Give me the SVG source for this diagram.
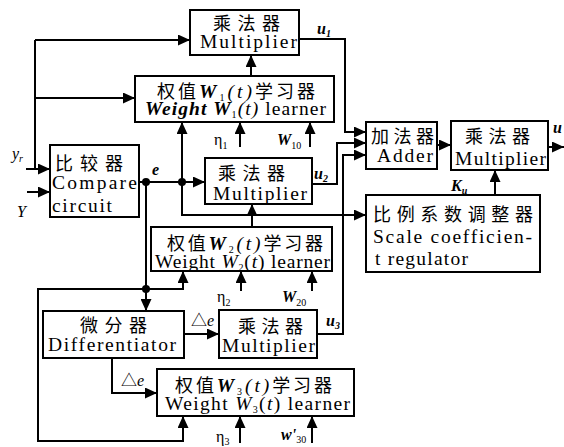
<svg xmlns="http://www.w3.org/2000/svg" width="564" height="447" viewBox="0 0 564 447">
<style>
.box{fill:#fff;stroke:#000;stroke-width:2}
.ln{fill:none;stroke:#000;stroke-width:2;marker-end:url(#ah)}
.pl{fill:none;stroke:#000;stroke-width:2}
.cn{font-family:"Liberation Serif","Noto Sans CJK SC",serif;font-size:18px;fill:#000}
.en{font-family:"Liberation Serif","Noto Sans CJK SC",serif;font-size:19.5px;fill:#000}
.lb{font-family:"Liberation Serif","Noto Sans CJK SC",serif;font-size:16px;fill:#000}
.it{font-style:italic}
.bi{font-style:italic;font-weight:bold}
.sb{font-size:10px}
</style>
<defs>
<marker id="ah" markerUnits="userSpaceOnUse" markerWidth="12" markerHeight="11" refX="12" refY="5.5" orient="auto">
<path d="M0,0 L12,5.5 L0,11 z" fill="#000"/>
</marker>
</defs>
<g id="connectors">
<path class="pl" d="M35,169 V40"/>
<path class="ln" d="M35,40 H190"/>
<path class="ln" d="M35,98 H135"/>
<path class="ln" d="M26,169 H50"/>
<path class="ln" d="M27,192 H50"/>
<path class="ln" d="M251,76 V55"/>
<path class="ln" d="M299,39 H345 V132 H366"/>
<path class="ln" d="M139,182 H205"/>
<path class="ln" d="M182,182 V122"/>
<path class="ln" d="M182,182 V215 H366"/>
<path class="ln" d="M240,147 V122"/>
<path class="ln" d="M310,147 V122"/>
<path class="ln" d="M312,184 H337 V143 H366"/>
<path class="ln" d="M252,227 V204"/>
<path class="ln" d="M146,182 V311"/>
<path class="ln" d="M146,289 H38 V441 H183 V416"/>
<path class="ln" d="M146,289 H183 V271"/>
<path class="ln" d="M241,291 V271"/>
<path class="ln" d="M312,291 V271"/>
<path class="ln" d="M184,334 H219"/>
<path class="ln" d="M112,358 V393 H157"/>
<path class="ln" d="M317,334 H343 V155 H366"/>
<path class="ln" d="M240,443 V416"/>
<path class="ln" d="M312,443 V416"/>
<path class="ln" d="M437,145 H451"/>
<path class="ln" d="M548,147 H564"/>
<path class="ln" d="M495,195 V170"/>
<circle cx="146" cy="182" r="4" fill="#000"/>
<circle cx="182" cy="182" r="4" fill="#000"/>
<circle cx="146" cy="289" r="4" fill="#000"/>
</g>
<g id="labels">
<text class="lb it" x="12" y="159">y<tspan class="sb" dy="3">r</tspan></text>
<text class="lb it" x="17" y="217">Y</text>
<text class="lb bi" x="152" y="175">e</text>
<text class="lb bi" x="317" y="34">u<tspan class="sb" dy="3">1</tspan></text>
<text class="lb" x="214" y="145">η<tspan class="sb" dy="4">1</tspan></text>
<text class="lb bi" x="277" y="145">W<tspan class="sb" dy="4" style="font-weight:normal;font-style:normal">10</tspan></text>
<text class="lb bi" x="314" y="179">u<tspan class="sb" dy="3">2</tspan></text>
<text class="lb" x="217" y="302">η<tspan class="sb" dy="4">2</tspan></text>
<text class="lb bi" x="282" y="302">W<tspan class="sb" dy="4" style="font-weight:normal;font-style:normal">20</tspan></text>
<text class="lb" x="191" y="326">△<tspan class="it">e</tspan></text>
<text class="lb" x="121" y="386">△<tspan class="it">e</tspan></text>
<text class="lb bi" x="326" y="326">u<tspan class="sb" dy="3">3</tspan></text>
<text class="lb" x="216" y="442">η<tspan class="sb" dy="3">3</tspan></text>
<text class="lb bi" x="281" y="440">w'<tspan class="sb" dy="3" style="font-weight:normal;font-style:normal">30</tspan></text>
<text class="lb bi" x="451" y="191">K<tspan class="sb" dy="3">u</tspan></text>
<text class="lb bi" x="553" y="133">u</text>
</g>
<g id="mult_top">
<rect class="box" x="190" y="10" width="109" height="45"/>
<text class="cn" x="213" y="30" textLength="67">乘法器</text>
<text class="en" x="200" y="48" textLength="97">Multiplier</text>
</g>
<g id="learner_w1">
<rect class="box" x="135" y="76" width="199" height="46"/>
<text class="cn" x="157" y="98" textLength="158">权值<tspan class="bi en">W</tspan><tspan class="sb" dy="3">1</tspan><tspan class="it en" dy="-3">(t)</tspan>学习器</text>
<text class="en" x="145" y="115" textLength="181"><tspan class="bi">Weight W</tspan><tspan class="sb" dy="3">1</tspan><tspan class="it" dy="-3">(t)</tspan> learner</text>
</g>
<g id="compare">
<rect class="box" x="50" y="145" width="89" height="72"/>
<text class="cn" x="55" y="170" textLength="68">比较器</text>
<text class="en" x="52" y="189" textLength="85">Compare</text>
<text class="en" x="52" y="212" textLength="60">circuit</text>
</g>
<g id="mult_mid">
<rect class="box" x="205" y="158" width="107" height="46"/>
<text class="cn" x="218" y="180" textLength="67">乘法器</text>
<text class="en" x="213" y="200" textLength="94">Multiplier</text>
</g>
<g id="learner_w2">
<rect class="box" x="151" y="227" width="181" height="44"/>
<text class="cn" x="167" y="250" textLength="156">权值<tspan class="bi en">W</tspan><tspan class="sb" dy="3">2</tspan><tspan class="it en" dy="-3">(t)</tspan>学习器</text>
<text class="en" x="155" y="268" textLength="175">Weight <tspan class="it">W</tspan><tspan class="sb" dy="3">2</tspan><tspan dy="-3">(</tspan><tspan class="it">t</tspan>) learner</text>
</g>
<g id="differentiator">
<rect class="box" x="43" y="311" width="141" height="47"/>
<text class="cn" x="80" y="332" textLength="67">微分器</text>
<text class="en" x="48" y="351" textLength="128">Differentiator</text>
</g>
<g id="mult_bot">
<rect class="box" x="219" y="310" width="98" height="48"/>
<text class="cn" x="238" y="333" textLength="65">乘法器</text>
<text class="en" x="222" y="352" textLength="93">Multiplier</text>
</g>
<g id="learner_w3">
<rect class="box" x="157" y="369" width="197" height="47"/>
<text class="cn" x="175" y="392" textLength="157">权值<tspan class="bi en">W</tspan><tspan class="sb" dy="3">3</tspan><tspan class="it en" dy="-3">(t)</tspan>学习器</text>
<text class="en" x="165" y="410" textLength="185">Weight <tspan class="it">W</tspan><tspan class="sb" dy="3">3</tspan><tspan dy="-3">(</tspan><tspan class="it">t</tspan>) learner</text>
</g>
<g id="adder">
<rect class="box" x="366" y="122" width="71" height="47"/>
<text class="cn" x="371" y="143" textLength="63">加法器</text>
<text class="en" x="377" y="162" textLength="56">Adder</text>
</g>
<g id="mult_final">
<rect class="box" x="451" y="121" width="97" height="49"/>
<text class="cn" x="465" y="143" textLength="65">乘法器</text>
<text class="en" x="455" y="165" textLength="91">Multiplier</text>
</g>
<g id="regulator">
<rect class="box" x="366" y="195" width="174" height="77"/>
<text class="cn" x="373" y="221" textLength="160">比例系数调整器</text>
<text class="en" x="373" y="243" textLength="159">Scale coefficien-</text>
<text class="en" x="375" y="265" textLength="93">t regulator</text>
</g>
</svg>
